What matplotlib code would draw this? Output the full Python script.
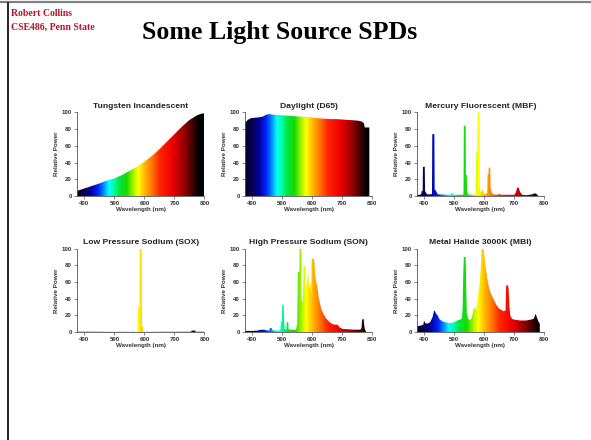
import numpy as np
import matplotlib
matplotlib.use("Agg")
import matplotlib.pyplot as plt
from matplotlib.colors import LinearSegmentedColormap
from matplotlib.lines import Line2D

plt.rcParams['font.family'] = ['Liberation Sans', 'DejaVu Sans']

# spectra (wavelength nm, relative power)
tung_wl = [375, 400, 425, 450, 475, 500, 525, 550, 575, 600, 625, 650, 675, 700, 725, 750, 775, 790, 800]
tung_pw = [6, 9, 12, 15, 18.5, 21, 25, 30, 35, 41, 48, 56, 65, 74, 83, 91, 96.5, 98.5, 99]

d65_wl = [375, 378, 385, 395, 405, 420, 435, 445, 455, 465, 480, 500, 520, 540, 560,
          580, 600, 620, 640, 660, 680, 700, 720, 740, 755, 765, 772, 775, 790]
d65_pw = [86, 88, 91, 93, 93.5, 94, 95, 97, 98, 97.5, 97, 96.5, 96, 95.5, 95,
          94.5, 94, 93, 92.5, 92, 92, 91.5, 91, 90.5, 90, 89, 87, 82, 82]

hg_wl = [375, 390, 392, 395, 396, 402, 403, 406, 410, 424,
         426, 427, 434, 435, 438, 441, 446, 485, 489, 495,
         497, 529, 531, 532, 538, 539, 542, 543, 546, 569,
         572, 573, 577, 578, 584, 585, 588, 590, 592, 596,
         598, 605, 610, 611, 614, 615, 620, 621, 624, 630,
         645, 650, 655, 700, 705, 708, 710, 715, 717, 721,
         726, 740, 760, 765, 772, 777, 780]
hg_pw = [1, 2, 6, 6, 35, 35, 6, 4, 2, 2,
         3, 74, 74, 8, 7, 5, 2, 1.5, 3, 3,
         1.5, 1.5, 3, 84, 84, 25, 25, 6, 2, 1.5,
         2, 52, 52, 100, 100, 10, 5, 4, 7, 7,
         3, 2, 4, 26, 26, 34, 34, 10, 5, 2,
         1.5, 2.5, 1.5, 1.5, 4, 8, 10, 10, 7, 4,
         1.5, 1, 2, 3, 3, 1.5, 0]

sox_wl = [375, 560, 563, 566, 577, 578, 583, 584, 591, 592, 595, 596, 755, 758, 768, 771, 800]
sox_pw = [0.5, 0.5, 1.5, 0.5, 0.5, 30, 30, 100, 100, 7, 7, 0.5, 0.5, 2, 2, 0.5, 0.5]

son_wl = [375, 400, 420, 428, 442, 450, 457, 459, 465, 467,
          470, 490, 494, 496, 499, 500, 505, 506, 508, 512,
          514, 515, 520, 521, 525, 546, 550, 552, 557, 558,
          564, 565, 568, 570, 571, 577, 578, 581, 584, 587,
          588, 591, 594, 597, 598, 605, 607, 609, 611, 614,
          617, 620, 624, 630, 637, 645, 655, 665, 675, 685,
          690, 700, 720, 740, 760, 764, 766, 771, 773, 775,
          777, 780]
son_pw = [1.5, 1.5, 2, 3, 3, 2, 2, 5, 5, 3,
          2, 2, 3, 13, 13, 33, 33, 15, 4, 3,
          3, 12, 12, 4, 3, 3, 10, 72, 72, 100,
          100, 40, 35, 48, 79, 79, 45, 58, 70, 55,
          73, 50, 60, 45, 88, 88, 85, 72, 65, 58,
          55, 45, 37, 28, 22, 17, 13, 10, 9, 9,
          6, 4, 3.5, 3, 3, 5, 15, 16, 8, 4,
          2, 0]

mbi_wl = [375, 390, 397, 400, 403, 410, 420, 428, 433, 436,
          440, 445, 450, 460, 470, 480, 490, 500, 510, 520,
          526, 528, 530, 532, 538, 540, 542, 547, 552, 558,
          563, 566, 570, 575, 580, 585, 589, 591, 597, 599,
          602, 606, 610, 615, 620, 630, 640, 650, 660, 665,
          670, 671, 672, 673, 679, 681, 684, 687, 692, 700,
          720, 740, 755, 765, 769, 771, 776, 780, 785]
mbi_pw = [7, 8, 9, 14, 11, 10, 12, 18, 26, 25,
          22, 20, 16, 13, 12, 11, 11, 12, 14, 15,
          17, 30, 68, 90, 90, 55, 22, 16, 14, 17,
          25, 30, 27, 30, 45, 60, 80, 100, 100, 97,
          85, 75, 65, 55, 48, 40, 33, 28, 26, 25,
          26, 26, 45, 56, 56, 52, 30, 20, 16, 15,
          14, 14, 15, 16, 20, 22, 17, 13, 10]

titles = ["Tungsten Incandescent", "Daylight (D65)", "Mercury Fluorescent (MBF)",
          "Low Pressure Sodium (SOX)", "High Pressure Sodium (SON)", "Metal Halide 3000K (MBI)"]
spectra = [(tung_wl, tung_pw), (d65_wl, d65_pw), (hg_wl, hg_pw),
           (sox_wl, sox_pw), (son_wl, son_pw), (mbi_wl, mbi_pw)]

# rainbow colour ramp over wavelength
stops = [(375, (0, 0, 0.15)), (395, (0.05, 0, 0.3)), (420, (0, 0, 0.6)), (445, (0, 0.15, 1)),
         (465, (0, 0.6, 1)), (480, (0, 1, 1)), (495, (0, 1, 0.7)), (515, (0, 0.9, 0.25)),
         (540, (0.1, 0.85, 0)), (560, (0.6, 0.95, 0)), (578, (1, 1, 0)), (600, (1, 0.72, 0)),
         (625, (1, 0.45, 0)), (650, (1, 0.15, 0)), (690, (0.95, 0, 0)), (730, (0.6, 0, 0)),
         (765, (0.2, 0, 0)), (780, (0, 0, 0)), (800, (0, 0, 0))]
cmap = LinearSegmentedColormap.from_list(
    "spec", [((w - 375) / 425, c) for w, c in stops])
ramp = np.linspace(0, 1, 426).reshape(1, -1)

fig = plt.figure(figsize=(5.91, 4.40), dpi=100)
fig.patch.set_facecolor('white')

# slide frame
fig.add_artist(Line2D([0, 1], [1 - 2.5 / 440] * 2, color='#808080', lw=1.6, transform=fig.transFigure))
fig.add_artist(Line2D([7.5 / 591] * 2, [0, 1 - 3 / 440], color='black', lw=1.2, transform=fig.transFigure))

fig.text(11 / 591, 1 - 14 / 440, "Robert Collins", color='#b8102a', fontsize=7,
         family='Liberation Serif', weight='bold', va='center')
fig.text(11 / 591, 1 - 27 / 440, "CSE486, Penn State", color='#b8102a', fontsize=7,
         family='Liberation Serif', weight='bold', va='center')
fig.text(280 / 591, 1 - 33 / 440, "Some Light Source SPDs", fontsize=18.6,
         family='Liberation Serif', weight='bold', ha='center', va='center')

lefts = [0.130, 0.414, 0.705]
bottoms = [0.5545, 0.245]
for i, (title, (wl, pw)) in enumerate(zip(titles, spectra)):
    ax = fig.add_axes([lefts[i % 3], bottoms[i // 3], 0.216, 0.19])
    poly = ax.fill_between(wl, pw, 0, facecolor='none', edgecolor='none')
    im = ax.imshow(ramp, cmap=cmap, extent=[375, 800, 0, 100], aspect='auto',
                   interpolation='bilinear')
    im.set_clip_path(poly.get_paths()[0], transform=ax.transData)
    ax.set_xlim(375, 800)
    ax.set_ylim(0, 100)
    ax.set_xticks([400, 500, 600, 700, 800])
    ax.set_yticks([0, 20, 40, 60, 80, 100])
    for s in ['top', 'right']:
        ax.spines[s].set_visible(False)
    for s in ['left', 'bottom']:
        ax.spines[s].set_color('#555555')
        ax.spines[s].set_linewidth(0.6)
    ax.tick_params(length=2, width=0.5, colors='#555555', labelsize=4.4, pad=1.5,
                   labelcolor='#333333')
    for lab in ax.get_xticklabels() + ax.get_yticklabels():
        lab.set_fontweight('bold')
    ax.set_title(title, fontsize=6.1, weight='bold', color='#222222', pad=3)
    ax.set_xlabel("Wavelength (nm)", fontsize=4.5, weight='bold', color='#333333', labelpad=1)
    ax.set_ylabel("Relative Power", fontsize=4.5, weight='bold', color='#333333', labelpad=2)

fig.savefig("out.png", dpi=100)
